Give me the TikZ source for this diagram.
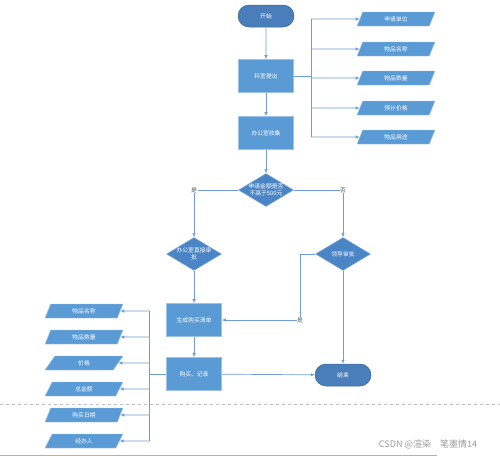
\documentclass[tikz,border=0pt]{standalone}
\usepackage{fontspec}
\setmainfont{Noto Sans CJK SC}
\usetikzlibrary{shapes.geometric,shapes.misc,arrows.meta}
\definecolor{termblue}{HTML}{4A7EBB}
\definecolor{boxblue}{HTML}{5B9BD5}
\definecolor{diablue}{HTML}{4A86C5}
\definecolor{lineblue}{HTML}{6F9DD3}
\begin{document}
\begin{tikzpicture}[x=1pt,y=-1pt,
      every node/.style={font=\fontsize{5.8}{7}\selectfont,text=white,align=center},
      term/.style={rounded rectangle,fill=termblue,draw=termblue!80!black,line width=0.5pt,
        minimum width=56pt,minimum height=22pt,inner sep=0pt},
      stepbox/.style={rectangle,fill=boxblue,draw=boxblue!60!white,line width=0.6pt,
        minimum width=55pt,minimum height=33pt,inner sep=0pt},
      decide/.style={diamond,fill=diablue,draw=diablue!70!white,line width=0.4pt,
        minimum width=55pt,minimum height=33pt,inner sep=0pt},
      dtext/.style={inner sep=0pt},
      data/.style={trapezium,trapezium left angle=70,trapezium right angle=110,
        trapezium stretches=true,fill=boxblue,draw=boxblue!60!white,line width=0.4pt,
        minimum width=78pt,minimum height=14pt,inner sep=0pt},
      yesno/.style={fill=white,text=black!65,inner sep=0.6pt},
      link/.style={draw=lineblue,line width=0.7pt},
      arr/.style={link,-{Latex[length=4pt,width=3.5pt]}}]
    \useasboundingbox (0,0) rectangle (500,456);
    % main column
    \node[term] (start) at (266,16) {开始};
    \node[stepbox] (propose) at (266,76) {科室提出};
    \node[stepbox] (collect) at (266,133) {办公室收集};
    \node[decide,label={[dtext]center:申请金额是否\\不高于500元}] (check) at (266,190) {};
    \node[decide,label={[dtext]center:办公室直接审\\批}] (office) at (194,254) {};
    \node[decide,label={[dtext]center:领导审批}] (leader) at (343,254) {};
    \node[stepbox] (list) at (194,320) {生成购买清单};
    \node[stepbox] (buy) at (194,374) {购买、记录};
    \node[term] (finish) at (343,375) {结束};
    % request fields
    \foreach \name/\y in {申请单位/19,物品名称/49,物品数量/78,预计价格/108,物品用途/137}
      \node[data] (req\y) at (396,\y) {\name};
    % purchase record fields
    \foreach \name/\y in {物品名称/311,物品数量/337,价格/363,总金额/389,购买日期/415,经办人/441}
      \node[data] (rec\y) at (84,\y) {\name};
    \coordinate (rtrunk) at (311,76);
    \coordinate (ltrunk) at (149,374);
    \coordinate (yesl) at (office |- check);
    \coordinate (nor) at (leader |- check);
    \coordinate (back) at (300,254);
    \coordinate (backl) at (300,320);
    % connectors
    \draw[arr] (start) -- (propose);
    \draw[arr] (propose) -- (collect);
    \draw[arr] (collect) -- (check);
    \draw[link] (propose.east) -- (rtrunk);
    \foreach \y in {19,49,78,108,137}
      \draw[arr] (rtrunk |- req\y) -- (req\y.west);
    \draw[link] (rtrunk |- req19) -- (rtrunk |- req137);
    \draw[arr] (check.west) -- (yesl) -- (office.north);
    \draw[arr] (check.east) -- (nor) -- (leader.north);
    \draw[arr] (office) -- (list);
    \draw[arr] (leader.west) -- (back) -- (backl) -- (list.east);
    \draw[arr] (leader) -- (finish);
    \draw[arr] (list) -- (buy);
    \draw[arr] (buy) -- (finish);
    \draw[link] (buy.west) -- (ltrunk);
    \draw[link] (ltrunk |- rec311) -- (ltrunk |- rec441);
    \foreach \y in {311,337,363,389,415,441}
      \draw[arr] (ltrunk |- rec\y) -- (rec\y.east);
    \node[yesno] at (yesl) {是};
    \node[yesno] at (nor) {否};
    \node[yesno] at (backl) {是};
    % page break and border
    \draw[black!25,dashed,line width=0.6pt] (0,404) -- (500,404);
    \draw[black!30,line width=0.8pt] (0,455.5) -- (437,455.5);
    \node[text=black!40,font=\fontsize{9}{10}\selectfont] (mark) at (428,444) {CSDN @渲染\quad 笔墨情14};
  \end{tikzpicture}
\end{document}
